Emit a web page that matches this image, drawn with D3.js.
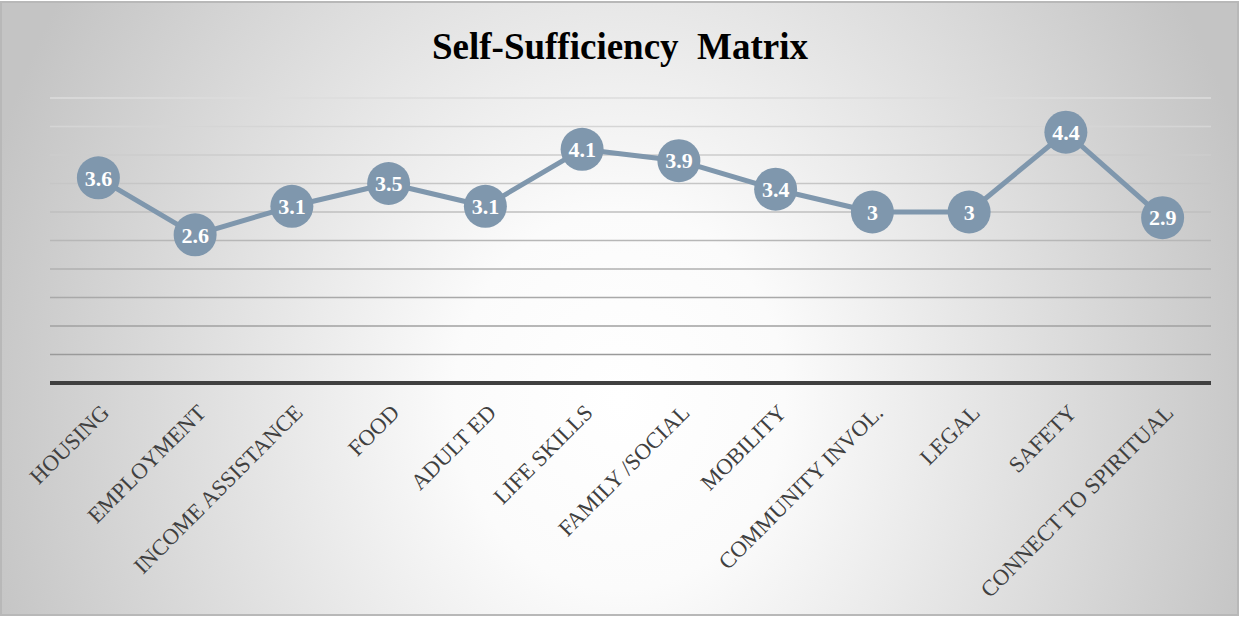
<!DOCTYPE html>
<html lang="en">
<head>
    <meta charset="UTF-8">
    <title>Self-Sufficiency Matrix</title>
    <script src="https://d3js.org/d3.v7.min.js"></script>
    <style>
        body { margin: 0; background: #fff; overflow: hidden; }
        svg { display: block; }
        .title { font-family: "Liberation Serif", serif; font-weight: bold; font-size: 37px; white-space: pre; }
        .cat { font-family: "Liberation Serif", serif; font-size: 22.5px; fill: #404040; white-space: pre; }
        .val { font-family: "Liberation Serif", serif; font-weight: bold; font-size: 22px; fill: #fff; }
    </style>
</head>
<body>
<svg width="1240" height="617"></svg>
<script>
    const categories = ["HOUSING", "EMPLOYMENT", "INCOME ASSISTANCE", "FOOD", "ADULT ED", "LIFE SKILLS",
        "FAMILY /SOCIAL", "MOBILITY", "COMMUNITY INVOL.", "LEGAL", "SAFETY", "CONNECT TO SPIRITUAL"];
    const values = [3.6, 2.6, 3.1, 3.5, 3.1, 4.1, 3.9, 3.4, 3, 3, 4.4, 2.9];
    const gridTicks = [0.5, 1, 1.5, 2, 2.5, 3, 3.5, 4, 4.5, 5];

    const W = 1240, H = 617;
    const svg = d3.select("svg");

    // background: radial gradient, white toward the lower middle
    const defs = svg.append("defs");
    const rg = defs.append("radialGradient").attr("id", "bg")
        .attr("gradientUnits", "userSpaceOnUse")
        .attr("cx", 620).attr("cy", 400).attr("r", 660)
        .attr("gradientTransform", "translate(620,400) scale(1,1.15) translate(-620,-400)");
    rg.append("stop").attr("offset", "0%").attr("stop-color", "#ffffff");
    rg.append("stop").attr("offset", "25%").attr("stop-color", "#fbfbfb");
    rg.append("stop").attr("offset", "100%").attr("stop-color", "#c4c4c4");
    svg.append("rect").attr("x", 1).attr("y", 2).attr("width", W - 3).attr("height", H - 4)
        .attr("fill", "url(#bg)").attr("stroke", "#b8b8b8").attr("stroke-width", 2);

    const mLeft = 50, mRight = 1211, mTop = 98, mBottom = 383;
    const x = d3.scaleBand().domain(categories).range([mLeft, mRight]);
    const y = d3.scaleLinear().domain([0, 5]).range([mBottom, mTop]);

    svg.append("text").attr("class", "title")
        .attr("x", W / 2).attr("y", 59).attr("text-anchor", "middle")
        .text("Self-Sufficiency  Matrix");

    // gridlines, lighter toward the top
    const gc = d3.scaleLinear().domain([0.5, 5]).range(["#9a9a9a", "#dcdcdc"]);
    svg.append("g").selectAll("line").data(gridTicks).join("line")
        .attr("x1", mLeft).attr("x2", mRight)
        .attr("y1", d => y(d)).attr("y2", d => y(d))
        .attr("stroke", d => gc(d)).attr("stroke-width", 1.3);

    // baseline
    svg.append("line").attr("x1", mLeft).attr("x2", mRight)
        .attr("y1", y(0)).attr("y2", y(0))
        .attr("stroke", "#404040").attr("stroke-width", 4);

    // category labels
    svg.append("g").selectAll("text").data(categories).join("text")
        .attr("class", "cat")
        .attr("text-anchor", "end")
        .attr("transform", d => `translate(${x(d) + x.bandwidth() / 2 + 12},${y(0) + 31}) rotate(-45)`)
        .text(d => d);

    const pts = categories.map((c, i) => [x(c) + x.bandwidth() / 2, y(values[i])]);
    svg.append("path").datum(pts)
        .attr("d", d3.line())
        .attr("fill", "none").attr("stroke", "#7f97ad").attr("stroke-width", 5)
        .attr("stroke-linejoin", "round");

    const mk = svg.append("g").selectAll("g").data(values).join("g")
        .attr("transform", (d, i) => `translate(${pts[i][0]},${pts[i][1]})`);
    mk.append("circle").attr("r", 21.5).attr("fill", "#7f97ad");
    mk.append("text").attr("class", "val").attr("text-anchor", "middle").attr("dy", "0.35em")
        .text(d => d);
</script>
</body>
</html>
